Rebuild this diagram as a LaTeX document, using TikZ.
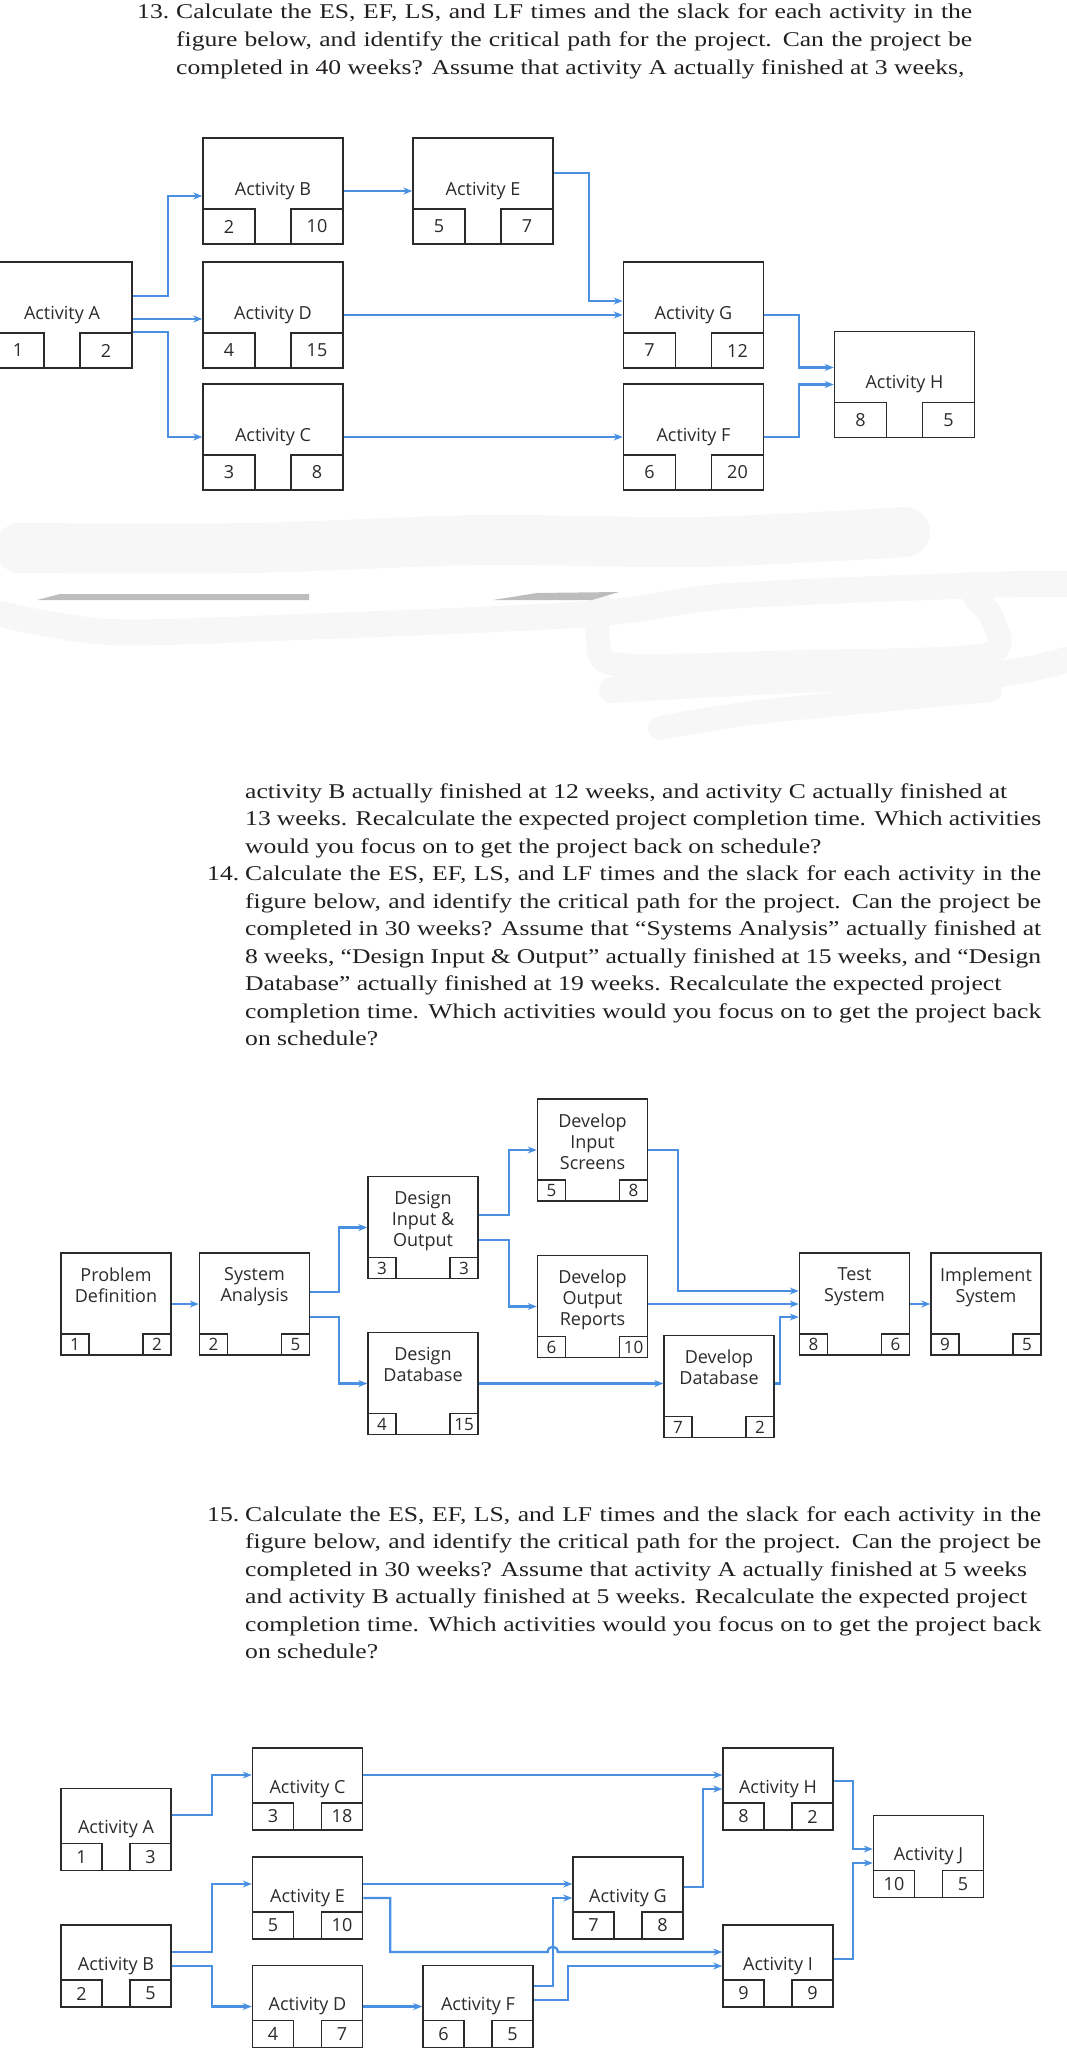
\documentclass[tikz,border=0pt]{standalone}
\usepackage{fontspec}
\setmainfont{Liberation Serif}[FakeStretch=1.22]
\setsansfont{Open Sans}
\usepackage{tikz}
\usetikzlibrary{arrows.meta,positioning,calc}
\definecolor{pmink}  {HTML}{2B2B2B}
\definecolor{pmtextc}{HTML}{231F20}
\definecolor{pmblue} {HTML}{4A90E2}
\definecolor{pmrule} {HTML}{BDBDBD}
\definecolor{pmmist} {HTML}{F7F7F7}
\tikzset{
  pmbox/.style={draw=pmink, line width=1.5pt, fill=white, inner sep=0pt,
                font=\sffamily\fontsize{18}{21}\selectfont, text=pmink},
  pmbox13/.style={pmbox, minimum width=140pt, minimum height=106pt},
  pmbox14/.style={pmbox, minimum width=110pt, minimum height=102pt},
  pmbox15/.style={pmbox, minimum width=110pt, minimum height=82pt},
  pmcell/.style={draw=pmink, line width=1.5pt, inner sep=0pt,
                 font=\sffamily\fontsize{18}{21}\selectfont, text=pmink},
  pmcell13/.style={pmcell, minimum width=52pt, minimum height=35pt},
  pmcell14/.style={pmcell, minimum width=28pt, minimum height=21pt,
                   font=\sffamily\fontsize{17}{20}\selectfont},
  pmcell15/.style={pmcell, minimum width=41pt, minimum height=27pt},
  pmlabel/.style={font=\sffamily\fontsize{18}{21}\selectfont, align=center,
                  inner sep=0pt, text=pmink},
  pmflow/.style={-{Stealth[length=9pt,width=7pt]}, draw=pmblue, line width=2.3pt},
  pmtext/.style={anchor=base west, inner sep=0pt, text width=796pt, align=justify,
                 text=pmtextc, font=\fontsize{21}{27.5}\selectfont},
  pmscrub/.style={draw=pmmist, line cap=round, line join=round},
}

\begin{document}
\begin{tikzpicture}[x=1pt,y=-1pt]
  \useasboundingbox (0,0) rectangle (1066,2061);

  \node[pmtext] (q13) at (176,19) {\parfillskip=0pt
    \leavevmode\llap{\makebox[39pt][l]{13.}}Calculate the ES, EF, LS, and LF times and the slack for each activity in the\linebreak
    figure below, and identify the critical path for the project. Can the project be\linebreak
    completed in 40 weeks? Assume that activity A actually finished at 3 weeks,};

  % problem 13
  \node[pmbox13] (a13) at (62,315) {Activity A};
  \node[pmcell13, anchor=south west] (a13s) at (a13.south west) {1};
  \node[pmcell13, anchor=south east] (a13f) at (a13.south east) {2};
  \node[pmbox13] (b13) at (273,191) {Activity B};
  \node[pmcell13, anchor=south west] (b13s) at (b13.south west) {2};
  \node[pmcell13, anchor=south east] (b13f) at (b13.south east) {10};
  \node[pmbox13] (e13) at (483,191) {Activity E};
  \node[pmcell13, anchor=south west] (e13s) at (e13.south west) {5};
  \node[pmcell13, anchor=south east] (e13f) at (e13.south east) {7};
  \node[pmbox13] (d13) at (273,315) {Activity D};
  \node[pmcell13, anchor=south west] (d13s) at (d13.south west) {4};
  \node[pmcell13, anchor=south east] (d13f) at (d13.south east) {15};
  \node[pmbox13] (c13) at (273,437) {Activity C};
  \node[pmcell13, anchor=south west] (c13s) at (c13.south west) {3};
  \node[pmcell13, anchor=south east] (c13f) at (c13.south east) {8};
  \node[pmbox13] (g13) at (693.5,315) {Activity G};
  \node[pmcell13, anchor=south west] (g13s) at (g13.south west) {7};
  \node[pmcell13, anchor=south east] (g13f) at (g13.south east) {12};
  \node[pmbox13] (f13) at (693.5,437) {Activity F};
  \node[pmcell13, anchor=south west] (f13s) at (f13.south west) {6};
  \node[pmcell13, anchor=south east] (f13f) at (f13.south east) {20};
  \node[pmbox13] (h13) at (904.5,384.5) {Activity H};
  \node[pmcell13, anchor=south west] (h13s) at (h13.south west) {8};
  \node[pmcell13, anchor=south east] (h13f) at (h13.south east) {5};

  \draw[pmflow] ($(a13.east)+(0,-19)$) -- ++(35,0) |- ($(b13.west)+(0,5)$);
  \draw[pmflow] ($(a13.east)+(0,4)$) -- ($(d13.west)+(0,4)$);
  \draw[pmflow] ($(a13.east)+(0,17)$) -- ++(35,0) |- (c13.west);
  \draw[pmflow] (b13.east) -- (e13.west);
  \draw[pmflow] ($(e13.east)+(0,-18)$) -- ++(35,0) |- ($(g13.west)+(0,-14)$);
  \draw[pmflow] (d13.east) -- (g13.west);
  \draw[pmflow] (c13.east) -- (f13.west);
  \draw[pmflow] (g13.east) -- ++(35,0) |- ($(h13.west)+(0,-17)$);
  \draw[pmflow] (f13.east) -- ++(35,0) |- (h13.west);

  % scribbled-out strip
  \draw[pmscrub, line width=50pt] plot[smooth] coordinates {(20,548) (250,548) (480,540) (700,542) (905,532)};
  \draw[pmscrub, line width=26pt] plot[smooth] coordinates {(0,614) (110,632) (300,627) (590,614) (730,596) (985,585) (1066,584)};
  \draw[pmscrub, line width=24pt] plot[smooth] coordinates {(600,604) (598,640) (620,665) (800,662) (985,655) (993,620) (975,598)};
  \draw[pmscrub, line width=26pt] plot[smooth] coordinates {(612,690) (800,680) (990,675) (1066,660)};
  \draw[pmscrub, line width=24pt] plot[smooth] coordinates {(660,728) (760,712) (990,690)};
  \fill[pmrule] (37,600) -- (60,594) -- (309,594) -- (309,600) -- cycle;
  \fill[pmrule] (493,600) -- (537,593) -- (619,592) -- (592,600) -- cycle;

  \node[pmtext] (q14) at (245,798) {
    activity B actually finished at 12 weeks, and activity C actually finished at\\
    13 weeks. Recalculate the expected project completion time. Which activities\linebreak
    would you focus on to get the project back on schedule?\par
    \leavevmode\llap{\makebox[38pt][l]{14.}}Calculate the ES, EF, LS, and LF times and the slack for each activity in the\linebreak
    figure below, and identify the critical path for the project. Can the project be\linebreak
    completed in 30 weeks? Assume that “Systems Analysis” actually finished at\linebreak
    8 weeks, “Design Input \& Output” actually finished at 15 weeks, and “Design\linebreak
    Database” actually finished at 19 weeks. Recalculate the expected project\\
    completion time. Which activities would you focus on to get the project back\linebreak
    on schedule?};

  % problem 14
  \node[pmbox14] (pd14) at (116,1304) {};
  \node[pmlabel, below=15pt of pd14.north] (pd14t) {Problem\\Definition};
  \node[pmcell14, anchor=south west] (pd14s) at (pd14.south west) {1};
  \node[pmcell14, anchor=south east] (pd14f) at (pd14.south east) {2};
  \node[pmbox14] (sa14) at (254.5,1304) {};
  \node[pmlabel, below=15pt of sa14.north] (sa14t) {System\\Analysis};
  \node[pmcell14, anchor=south west] (sa14s) at (sa14.south west) {2};
  \node[pmcell14, anchor=south east] (sa14f) at (sa14.south east) {5};
  \node[pmbox14] (dio14) at (423,1227.5) {};
  \node[pmlabel, below=15pt of dio14.north] (dio14t) {Design\\Input \&\\Output};
  \node[pmcell14, anchor=south west] (dio14s) at (dio14.south west) {3};
  \node[pmcell14, anchor=south east] (dio14f) at (dio14.south east) {3};
  \node[pmbox14] (ddb14) at (423,1383.5) {};
  \node[pmlabel, below=15pt of ddb14.north] (ddb14t) {Design\\Database};
  \node[pmcell14, anchor=south west] (ddb14s) at (ddb14.south west) {4};
  \node[pmcell14, anchor=south east] (ddb14f) at (ddb14.south east) {15};
  \node[pmbox14] (dis14) at (592.5,1150) {};
  \node[pmlabel, below=15pt of dis14.north] (dis14t) {Develop\\Input\\Screens};
  \node[pmcell14, anchor=south west] (dis14s) at (dis14.south west) {5};
  \node[pmcell14, anchor=south east] (dis14f) at (dis14.south east) {8};
  \node[pmbox14] (dor14) at (592.5,1306.5) {};
  \node[pmlabel, below=15pt of dor14.north] (dor14t) {Develop\\Output\\Reports};
  \node[pmcell14, anchor=south west] (dor14s) at (dor14.south west) {6};
  \node[pmcell14, anchor=south east] (dor14f) at (dor14.south east) {10};
  \node[pmbox14] (dvd14) at (719,1386.5) {};
  \node[pmlabel, below=15pt of dvd14.north] (dvd14t) {Develop\\Database};
  \node[pmcell14, anchor=south west] (dvd14s) at (dvd14.south west) {7};
  \node[pmcell14, anchor=south east] (dvd14f) at (dvd14.south east) {2};
  \node[pmbox14] (ts14) at (854.5,1304) {};
  \node[pmlabel, below=15pt of ts14.north] (ts14t) {Test\\System};
  \node[pmcell14, anchor=south west] (ts14s) at (ts14.south west) {8};
  \node[pmcell14, anchor=south east] (ts14f) at (ts14.south east) {6};
  \node[pmbox14] (im14) at (986,1304) {};
  \node[pmlabel, below=15pt of im14.north] (im14t) {Implement\\System};
  \node[pmcell14, anchor=south west] (im14s) at (im14.south west) {9};
  \node[pmcell14, anchor=south east] (im14f) at (im14.south east) {5};

  \draw[pmflow] (pd14.east) -- (sa14.west);
  \draw[pmflow] ($(sa14.east)+(0,-12)$) -- ++(29,0) |- (dio14.west);
  \draw[pmflow] ($(sa14.east)+(0,13)$) -- ++(29,0) |- (ddb14.west);
  \draw[pmflow] ($(dio14.east)+(0,-12.5)$) -- ++(30,0) |- (dis14.west);
  \draw[pmflow] ($(dio14.east)+(0,12.5)$) -- ++(30,0) |- (dor14.west);
  \draw[pmflow] (dis14.east) -- ++(30,0) |- ($(ts14.west)+(0,-13)$);
  \draw[pmflow] (dor14.east |- ts14.west) -- (ts14.west);
  \draw[pmflow] (ddb14.east) -- (ddb14.east -| dvd14.west);
  \draw[pmflow] (dvd14.east |- ddb14.east) -- ++(5,0) |- ($(ts14.west)+(0,13)$);
  \draw[pmflow] (ts14.east) -- (im14.west);

  \node[pmtext] (q15) at (245,1521) {
    \leavevmode\llap{\makebox[38pt][l]{15.}}Calculate the ES, EF, LS, and LF times and the slack for each activity in the\linebreak
    figure below, and identify the critical path for the project. Can the project be\linebreak
    completed in 30 weeks? Assume that activity A actually finished at 5 weeks\\
    and activity B actually finished at 5 weeks. Recalculate the expected project\\
    completion time. Which activities would you focus on to get the project back\linebreak
    on schedule?};

  % problem 15
  \node[pmbox15] (a15) at (116,1829.5) {Activity A};
  \node[pmcell15, anchor=south west] (a15s) at (a15.south west) {1};
  \node[pmcell15, anchor=south east] (a15f) at (a15.south east) {3};
  \node[pmbox15] (b15) at (116,1966) {Activity B};
  \node[pmcell15, anchor=south west] (b15s) at (b15.south west) {2};
  \node[pmcell15, anchor=south east] (b15f) at (b15.south east) {5};
  \node[pmbox15] (c15) at (307.5,1789) {Activity C};
  \node[pmcell15, anchor=south west] (c15s) at (c15.south west) {3};
  \node[pmcell15, anchor=south east] (c15f) at (c15.south east) {18};
  \node[pmbox15] (e15) at (307.5,1898) {Activity E};
  \node[pmcell15, anchor=south west] (e15s) at (e15.south west) {5};
  \node[pmcell15, anchor=south east] (e15f) at (e15.south east) {10};
  \node[pmbox15] (d15) at (307.5,2006.5) {Activity D};
  \node[pmcell15, anchor=south west] (d15s) at (d15.south west) {4};
  \node[pmcell15, anchor=south east] (d15f) at (d15.south east) {7};
  \node[pmbox15] (f15) at (478,2006.5) {Activity F};
  \node[pmcell15, anchor=south west] (f15s) at (f15.south west) {6};
  \node[pmcell15, anchor=south east] (f15f) at (f15.south east) {5};
  \node[pmbox15] (g15) at (628,1898) {Activity G};
  \node[pmcell15, anchor=south west] (g15s) at (g15.south west) {7};
  \node[pmcell15, anchor=south east] (g15f) at (g15.south east) {8};
  \node[pmbox15] (h15) at (778,1789) {Activity H};
  \node[pmcell15, anchor=south west] (h15s) at (h15.south west) {8};
  \node[pmcell15, anchor=south east] (h15f) at (h15.south east) {2};
  \node[pmbox15] (i15) at (778,1966) {Activity I};
  \node[pmcell15, anchor=south west] (i15s) at (i15.south west) {9};
  \node[pmcell15, anchor=south east] (i15f) at (i15.south east) {9};
  \node[pmbox15] (j15) at (928.5,1856.5) {Activity J};
  \node[pmcell15, anchor=south west] (j15s) at (j15.south west) {10};
  \node[pmcell15, anchor=south east] (j15f) at (j15.south east) {5};

  \coordinate (hop15) at ($(f15.east)+(19,0)$);
  \coordinate (ei15) at ($(i15.west)+(0,-14)$);
  \draw[pmflow] ($(a15.east)+(0,-14.5)$) -- ++(40,0) |- ($(c15.west)+(0,-14)$);
  \draw[pmflow] ($(b15.east)+(0,-14)$) -- ++(40,0) |- ($(e15.west)+(0,-14)$);
  \draw[pmflow] (b15.east) -- ++(40,0) |- (d15.west);
  \draw[pmflow] ($(c15.east)+(0,-14)$) -- ($(h15.west)+(0,-14)$);
  \draw[pmflow] ($(e15.east)+(0,-14)$) -- ($(g15.west)+(0,-14)$);
  \draw[pmflow] (e15.east) -- ++(27,0) |- ($(hop15 |- ei15)+(-5,0)$)
    .. controls +(0,-7) and +(0,-7) .. ($(hop15 |- ei15)+(5,0)$) -- (ei15);
  \draw[pmflow] (d15.east) -- (f15.west);
  \draw[pmflow] ($(f15.east)+(0,-20.5)$) -- ++(19,0) |- (g15.west);
  \draw[pmflow] ($(f15.east)+(0,-6.5)$) -- ++(34,0) |- (i15.west);
  \draw[pmflow] ($(g15.east)+(0,-11)$) -- ++(19,0) |- (h15.west);
  \draw[pmflow] ($(h15.east)+(0,-8)$) -- ++(19,0) |- ($(j15.west)+(0,-7.5)$);
  \draw[pmflow] ($(i15.east)+(0,-7)$) -- ++(19,0) |- ($(j15.west)+(0,6.5)$);
\end{tikzpicture}
\end{document}
